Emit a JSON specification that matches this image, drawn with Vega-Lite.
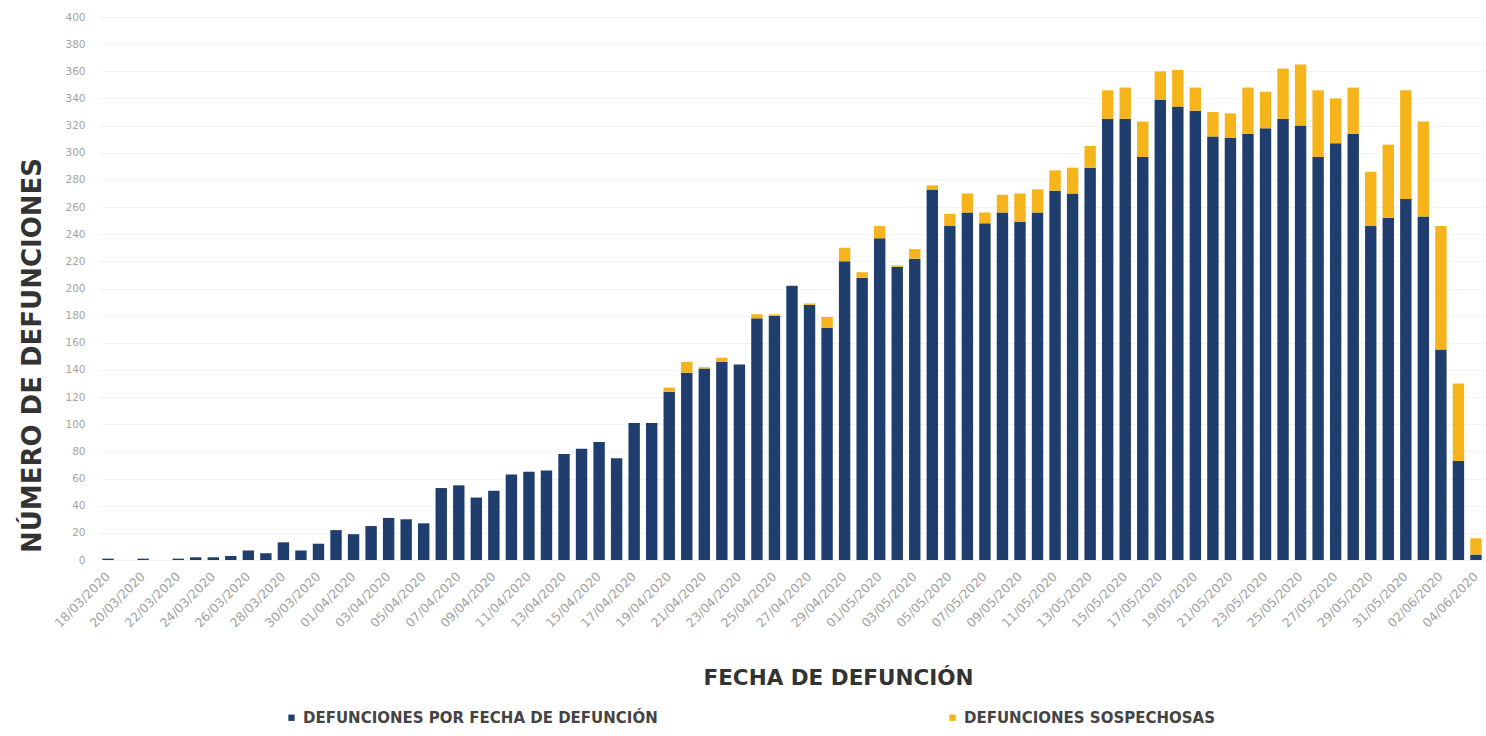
{
  "$schema": "https://vega.github.io/schema/vega-lite/v6.json",
  "width": 1386,
  "height": 543,
  "autosize": {"type": "none"},
  "padding": {"left": 99, "top": 17, "right": 1, "bottom": 176},
  "background": "white",
  "config": {"view": {"stroke": null}},
  "data": {"values": [
    {"fecha": "18/03/2020", "confirmadas": 1, "sospechosas": 0},
    {"fecha": "19/03/2020", "confirmadas": 0, "sospechosas": 0},
    {"fecha": "20/03/2020", "confirmadas": 1, "sospechosas": 0},
    {"fecha": "21/03/2020", "confirmadas": 0, "sospechosas": 0},
    {"fecha": "22/03/2020", "confirmadas": 1, "sospechosas": 0},
    {"fecha": "23/03/2020", "confirmadas": 2, "sospechosas": 0},
    {"fecha": "24/03/2020", "confirmadas": 2, "sospechosas": 0},
    {"fecha": "25/03/2020", "confirmadas": 3, "sospechosas": 0},
    {"fecha": "26/03/2020", "confirmadas": 7, "sospechosas": 0},
    {"fecha": "27/03/2020", "confirmadas": 5, "sospechosas": 0},
    {"fecha": "28/03/2020", "confirmadas": 13, "sospechosas": 0},
    {"fecha": "29/03/2020", "confirmadas": 7, "sospechosas": 0},
    {"fecha": "30/03/2020", "confirmadas": 12, "sospechosas": 0},
    {"fecha": "31/03/2020", "confirmadas": 22, "sospechosas": 0},
    {"fecha": "01/04/2020", "confirmadas": 19, "sospechosas": 0},
    {"fecha": "02/04/2020", "confirmadas": 25, "sospechosas": 0},
    {"fecha": "03/04/2020", "confirmadas": 31, "sospechosas": 0},
    {"fecha": "04/04/2020", "confirmadas": 30, "sospechosas": 0},
    {"fecha": "05/04/2020", "confirmadas": 27, "sospechosas": 0},
    {"fecha": "06/04/2020", "confirmadas": 53, "sospechosas": 0},
    {"fecha": "07/04/2020", "confirmadas": 55, "sospechosas": 0},
    {"fecha": "08/04/2020", "confirmadas": 46, "sospechosas": 0},
    {"fecha": "09/04/2020", "confirmadas": 51, "sospechosas": 0},
    {"fecha": "10/04/2020", "confirmadas": 63, "sospechosas": 0},
    {"fecha": "11/04/2020", "confirmadas": 65, "sospechosas": 0},
    {"fecha": "12/04/2020", "confirmadas": 66, "sospechosas": 0},
    {"fecha": "13/04/2020", "confirmadas": 78, "sospechosas": 0},
    {"fecha": "14/04/2020", "confirmadas": 82, "sospechosas": 0},
    {"fecha": "15/04/2020", "confirmadas": 87, "sospechosas": 0},
    {"fecha": "16/04/2020", "confirmadas": 75, "sospechosas": 0},
    {"fecha": "17/04/2020", "confirmadas": 101, "sospechosas": 0},
    {"fecha": "18/04/2020", "confirmadas": 101, "sospechosas": 0},
    {"fecha": "19/04/2020", "confirmadas": 124, "sospechosas": 3},
    {"fecha": "20/04/2020", "confirmadas": 138, "sospechosas": 8},
    {"fecha": "21/04/2020", "confirmadas": 141, "sospechosas": 1},
    {"fecha": "22/04/2020", "confirmadas": 146, "sospechosas": 3},
    {"fecha": "23/04/2020", "confirmadas": 144, "sospechosas": 0},
    {"fecha": "24/04/2020", "confirmadas": 178, "sospechosas": 3},
    {"fecha": "25/04/2020", "confirmadas": 180, "sospechosas": 1},
    {"fecha": "26/04/2020", "confirmadas": 202, "sospechosas": 0},
    {"fecha": "27/04/2020", "confirmadas": 188, "sospechosas": 1},
    {"fecha": "28/04/2020", "confirmadas": 171, "sospechosas": 8},
    {"fecha": "29/04/2020", "confirmadas": 220, "sospechosas": 10},
    {"fecha": "30/04/2020", "confirmadas": 208, "sospechosas": 4},
    {"fecha": "01/05/2020", "confirmadas": 237, "sospechosas": 9},
    {"fecha": "02/05/2020", "confirmadas": 216, "sospechosas": 1},
    {"fecha": "03/05/2020", "confirmadas": 222, "sospechosas": 7},
    {"fecha": "04/05/2020", "confirmadas": 273, "sospechosas": 3},
    {"fecha": "05/05/2020", "confirmadas": 246, "sospechosas": 9},
    {"fecha": "06/05/2020", "confirmadas": 256, "sospechosas": 14},
    {"fecha": "07/05/2020", "confirmadas": 248, "sospechosas": 8},
    {"fecha": "08/05/2020", "confirmadas": 256, "sospechosas": 13},
    {"fecha": "09/05/2020", "confirmadas": 249, "sospechosas": 21},
    {"fecha": "10/05/2020", "confirmadas": 256, "sospechosas": 17},
    {"fecha": "11/05/2020", "confirmadas": 272, "sospechosas": 15},
    {"fecha": "12/05/2020", "confirmadas": 270, "sospechosas": 19},
    {"fecha": "13/05/2020", "confirmadas": 289, "sospechosas": 16},
    {"fecha": "14/05/2020", "confirmadas": 325, "sospechosas": 21},
    {"fecha": "15/05/2020", "confirmadas": 325, "sospechosas": 23},
    {"fecha": "16/05/2020", "confirmadas": 297, "sospechosas": 26},
    {"fecha": "17/05/2020", "confirmadas": 339, "sospechosas": 21},
    {"fecha": "18/05/2020", "confirmadas": 334, "sospechosas": 27},
    {"fecha": "19/05/2020", "confirmadas": 331, "sospechosas": 17},
    {"fecha": "20/05/2020", "confirmadas": 312, "sospechosas": 18},
    {"fecha": "21/05/2020", "confirmadas": 311, "sospechosas": 18},
    {"fecha": "22/05/2020", "confirmadas": 314, "sospechosas": 34},
    {"fecha": "23/05/2020", "confirmadas": 318, "sospechosas": 27},
    {"fecha": "24/05/2020", "confirmadas": 325, "sospechosas": 37},
    {"fecha": "25/05/2020", "confirmadas": 320, "sospechosas": 45},
    {"fecha": "26/05/2020", "confirmadas": 297, "sospechosas": 49},
    {"fecha": "27/05/2020", "confirmadas": 307, "sospechosas": 33},
    {"fecha": "28/05/2020", "confirmadas": 314, "sospechosas": 34},
    {"fecha": "29/05/2020", "confirmadas": 246, "sospechosas": 40},
    {"fecha": "30/05/2020", "confirmadas": 252, "sospechosas": 54},
    {"fecha": "31/05/2020", "confirmadas": 266, "sospechosas": 80},
    {"fecha": "01/06/2020", "confirmadas": 253, "sospechosas": 70},
    {"fecha": "02/06/2020", "confirmadas": 155, "sospechosas": 91},
    {"fecha": "03/06/2020", "confirmadas": 73, "sospechosas": 57},
    {"fecha": "04/06/2020", "confirmadas": 4, "sospechosas": 12}
  ]},
  "transform": [
    {"fold": ["confirmadas", "sospechosas"], "as": ["tipo", "valor"]}
  ],
  "mark": {"type": "bar"},
  "encoding": {
    "x": {
      "field": "fecha",
      "type": "ordinal",
      "sort": null,
      "scale": {"paddingInner": 0.35, "paddingOuter": 0.19},
      "axis": {
        "title": "FECHA DE DEFUNCIÓN",
        "titleFont": "DejaVu Sans",
        "titleFontWeight": "bold",
        "titleFontSize": 21.5,
        "titleColor": "#333333",
        "titleX": 739,
        "titleY": 118,
        "titleAlign": "center",
        "titleBaseline": "middle",
        "values": ["18/03/2020","20/03/2020","22/03/2020","24/03/2020","26/03/2020","28/03/2020","30/03/2020","01/04/2020","03/04/2020","05/04/2020","07/04/2020","09/04/2020","11/04/2020","13/04/2020","15/04/2020","17/04/2020","19/04/2020","21/04/2020","23/04/2020","25/04/2020","27/04/2020","29/04/2020","01/05/2020","03/05/2020","05/05/2020","07/05/2020","09/05/2020","11/05/2020","13/05/2020","15/05/2020","17/05/2020","19/05/2020","21/05/2020","23/05/2020","25/05/2020","27/05/2020","29/05/2020","31/05/2020","02/06/2020","04/06/2020"],
        "labelAngle": -45,
        "labelAlign": "right",
        "labelBaseline": "middle",
        "labelFont": "DejaVu Sans",
        "labelFontSize": 12.5,
        "labelColor": "#a3a3a3",
        "labelPadding": 14,
        "labelOverlap": false,
        "domain": false,
        "ticks": false,
        "grid": false
      }
    },
    "y": {
      "field": "valor",
      "type": "quantitative",
      "stack": "zero",
      "scale": {"domain": [0, 400], "nice": false},
      "axis": {
        "title": "NÚMERO DE  DEFUNCIONES",
        "titleFont": "DejaVu Sans",
        "titleFontWeight": "bold",
        "titleFontSize": 26,
        "titleColor": "#333333",
        "titleAngle": -90,
        "titleX": -67,
        "titleY": 338,
        "titleAlign": "center",
        "titleBaseline": "middle",
        "values": [0,20,40,60,80,100,120,140,160,180,200,220,240,260,280,300,320,340,360,380,400],
        "labelFont": "DejaVu Sans",
        "labelFontSize": 10.5,
        "labelColor": "#a3a3a3",
        "labelPadding": 14,
        "domain": false,
        "ticks": false,
        "grid": true,
        "gridColor": "#f3f3f3",
        "gridWidth": 1
      }
    },
    "color": {
      "field": "tipo",
      "type": "nominal",
      "scale": {"domain": ["confirmadas", "sospechosas"], "range": ["#1f3e6e", "#f5b41a"]},
      "legend": {
        "title": null,
        "orient": "none",
        "direction": "horizontal",
        "legendX": 185,
        "legendY": 693,
        "columns": 2,
        "columnPadding": 287,
        "symbolType": "square",
        "symbolSize": 40,
        "symbolStrokeWidth": 0,
        "labelFont": "DejaVu Sans",
        "labelFontWeight": "bold",
        "labelFontSize": 15,
        "labelColor": "#444444",
        "labelOffset": 4,
        "labelLimit": 600,
        "labelExpr": "datum.label == 'confirmadas' ? 'DEFUNCIONES POR FECHA DE DEFUNCIÓN' : 'DEFUNCIONES SOSPECHOSAS'"
      }
    },
    "order": {"field": "tipo", "sort": "ascending"}
  }
}
